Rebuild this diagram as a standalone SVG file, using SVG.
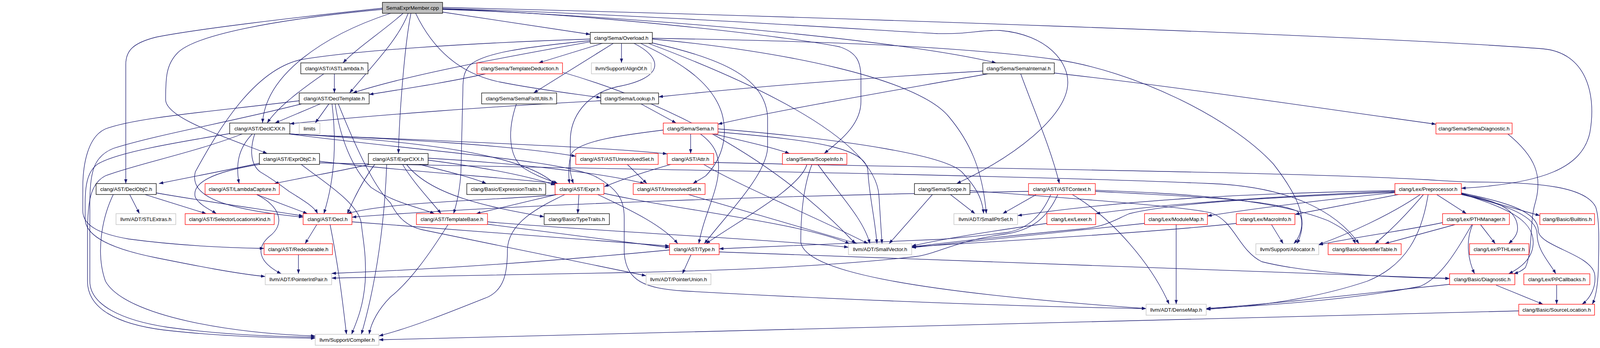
<svg xmlns="http://www.w3.org/2000/svg" width="4331" height="891" viewBox="0 0 4331 891">
<style>
.node rect{fill:#ffffff;stroke-width:1.3}
.nb rect{stroke:#000000}
.nr rect{stroke:#ff0000}
.ng rect{stroke:#bfbfbf}
.nm rect{fill:#bfbfbf;stroke:#000000}
.node text{font-family:"Liberation Sans",Arial,Helvetica,sans-serif;font-size:13.3px;fill:#000000;text-anchor:middle}
#edges path{fill:none;stroke:#191970;stroke-width:1.3;marker-end:url(#arr)}
</style>
<defs>
<marker id="arr" markerUnits="userSpaceOnUse" markerWidth="11" markerHeight="8" viewBox="0 0 11 8" refX="11" refY="4" orient="auto"><path d="M0,0L11,4L0,8z" fill="#191970"/></marker>
</defs>
<rect x="0" y="0" width="4331" height="891" fill="#ffffff"/>
<g id="edges">
<path d="M1133,31 L1511,88"/>
<path d="M1032,34 C980,80 915,122 878,161"/>
<path d="M1000,34 C830,90 680,190 672,315"/>
<path d="M979,21 C750,45 500,75 400,95 C340,110 322,130 322,165 L322,470"/>
<path d="M979,24 C700,50 500,90 455,135 C425,165 424,200 424,255 C424,300 560,345 684,393"/>
<path d="M1045,34 C1020,100 960,160 895,238"/>
<path d="M1052,34 C1035,120 1022,300 1020,393"/>
<path d="M1064,34 C1110,130 1180,190 1280,210 C1380,230 1470,240 1538,250"/>
<path d="M1133,24 C1600,40 2300,100 2550,161"/>
<path d="M1133,19 C2000,40 3500,90 3950,125 C4060,135 4088,240 4070,340 C4050,430 3950,470 3741,482"/>
<path d="M1133,22 C1600,35 2200,75 2400,86 C2480,88 2510,76 2560,78 C2680,88 2740,160 2733,220 C2725,300 2600,400 2449,470"/>
<path d="M1133,23 C1500,35 2000,90 2150,120 C2195,135 2204,160 2204,200 L2204,260 C2204,320 2150,360 2110,393"/>
<path d="M1542,111 L1379,161"/>
<path d="M1591,111 L1591,161"/>
<path d="M1570,111 L1366,238"/>
<path d="M1511,107 C1300,145 1050,190 903,238"/>
<path d="M1511,100 C1200,110 900,130 769,153 C650,180 560,330 500,440 C485,500 560,535 776,556"/>
<path d="M1623,111 C1700,150 1700,200 1580,222 C1500,240 1460,300 1460,360 L1460,440 C1462,452 1465,462 1468,470"/>
<path d="M1511,104 C1350,120 1230,135 1200,170 C1188,185 1185,200 1185,230 L1180,440 C1178,480 1170,520 1161,547"/>
<path d="M1670,110 C1850,150 1960,200 1965,300 L1965,380 C1960,450 1860,550 1803,624"/>
<path d="M1640,111 C1720,150 1820,200 1848,290 C1862,340 1855,400 1807,450 C1795,458 1785,463 1774,470"/>
<path d="M1670,100 C2000,130 2350,200 2430,300 C2480,360 2515,430 2525,547"/>
<path d="M1660,111 C1950,220 2240,360 2250,500 L2258,624"/>
<path d="M1670,98 C2100,105 2450,118 2700,152 C2900,180 3150,300 3260,420 C3330,510 3350,570 3320,624"/>
<path d="M856,189 L856,238"/>
<path d="M829,189 C770,230 710,275 684,315"/>
<path d="M1243,189 C1150,210 1050,225 945,242"/>
<path d="M1440,185 C1700,260 1980,400 2190,624"/>
<path d="M2516,182 C2200,200 1900,225 1686,248"/>
<path d="M2529,189 C2300,230 2000,280 1838,318"/>
<path d="M2613,189 C2650,290 2690,380 2712,470"/>
<path d="M2699,187 C3000,220 3400,280 3676,318"/>
<path d="M820,266 L704,315"/>
<path d="M842,266 L807,315"/>
<path d="M850,266 C860,350 860,450 829,547"/>
<path d="M858,266 C870,350 900,430 950,480 C1010,520 1070,530 1112,547"/>
<path d="M866,266 C920,400 960,480 1000,520 C1020,560 1045,580 1080,588 L1654,706"/>
<path d="M766,258 C550,285 350,300 270,330 C225,350 212,420 212,480 L212,540 C212,580 260,600 330,612 C450,628 560,634 676,636"/>
<path d="M772,266 C600,310 400,345 290,380 C240,400 230,440 230,520 L230,720 C230,780 310,820 430,838 C560,856 700,862 807,863"/>
<path d="M646,343 C610,380 603,420 612,470"/>
<path d="M652,343 C640,380 640,420 666,440 C700,460 720,475 740,490 C780,515 805,530 813,547"/>
<path d="M740,343 C1100,360 1550,376 1708,394"/>
<path d="M740,343 C1000,355 1300,370 1474,400"/>
<path d="M740,343 C1100,362 1350,400 1421,472"/>
<path d="M740,343 C1100,390 1450,410 1530,455 C1590,490 1598,520 1598,560 L1598,650 C1605,720 1650,738 1750,745 C2100,765 2600,785 2934,790"/>
<path d="M588,342 C450,365 300,390 250,420 C222,440 218,480 218,520 L218,560 C218,610 300,640 400,660 C500,680 600,700 679,708"/>
<path d="M620,343 C500,390 350,420 270,450 C230,470 224,520 224,600 L224,720 C224,790 300,830 420,845 C550,860 700,865 807,866"/>
<path d="M400,494 C550,520 700,540 776,553"/>
<path d="M371,498 L528,547"/>
<path d="M332,498 L357,547"/>
<path d="M290,498 C260,560 245,650 270,720 C320,810 600,855 807,860"/>
<path d="M664,418 C560,440 480,455 407,470"/>
<path d="M818,413 C1050,440 1300,455 1428,470"/>
<path d="M670,420 C540,440 490,470 500,505 C510,525 540,538 554,547"/>
<path d="M818,417 C1500,432 2500,445 3100,470 C3300,478 3420,540 3479,624"/>
<path d="M770,420 C820,460 920,520 925,573 C930,620 938,650 935,720 C930,790 910,830 900,856"/>
<path d="M950,420 C900,432 800,450 702,470"/>
<path d="M960,420 C930,460 905,510 889,547"/>
<path d="M1096,410 C1250,430 1350,450 1421,474"/>
<path d="M1030,420 C1060,470 1100,510 1129,547"/>
<path d="M1096,405 C1350,420 1550,445 1650,470"/>
<path d="M1070,420 C1150,440 1210,455 1245,470"/>
<path d="M1040,420 C1100,500 1250,530 1393,555"/>
<path d="M990,420 C985,560 965,720 925,856"/>
<path d="M1428,498 C1300,512 1000,515 889,547"/>
<path d="M1425,498 L1219,547"/>
<path d="M1482,498 L1479,547"/>
<path d="M1530,498 C1620,540 1700,580 1735,624"/>
<path d="M1546,495 C1750,540 2050,570 2175,624"/>
<path d="M1446,498 C1380,530 1300,570 1299,640 C1299,700 1290,740 1250,760 C1150,800 1050,840 970,860"/>
<path d="M1248,574 C1450,600 1600,620 1714,634"/>
<path d="M1248,568 C1500,590 2000,615 2172,633"/>
<path d="M1147,575 C1100,650 1050,720 1000,760 C970,790 950,825 945,856"/>
<path d="M657,498 L787,547"/>
<path d="M657,498 C720,530 730,575 690,605 C655,635 660,670 720,701"/>
<path d="M811,575 L781,624"/>
<path d="M845,575 C870,700 880,800 887,856"/>
<path d="M901,568 C1200,590 1500,612 1714,630"/>
<path d="M764,652 L764,701"/>
<path d="M1714,640 C1400,670 1100,690 849,700"/>
<path d="M1769,652 L1747,701"/>
<path d="M1841,645 C2300,662 3000,690 3711,713"/>
<path d="M1605,420 L1656,470"/>
<path d="M1720,420 C1650,440 1590,460 1547,478"/>
<path d="M1800,420 C1900,480 2100,560 2222,624"/>
<path d="M1827,416 C2500,432 3300,440 3650,460 C3700,463 3740,466 3770,466 C3950,466 4060,480 4085,530 C4095,560 4093,620 4092,680 C4091,730 4086,760 4076,779"/>
<path d="M1768,343 L1768,393"/>
<path d="M1827,343 C1900,360 1980,378 2021,393"/>
<path d="M1698,333 C1600,345 1480,360 1462,395 C1455,420 1455,450 1458,470"/>
<path d="M1793,343 C1830,370 1845,400 1838,450 C1832,500 1800,560 1789,624"/>
<path d="M1838,330 C2200,360 2420,400 2462,440 C2500,480 2515,510 2518,547"/>
<path d="M1838,338 C2100,360 2220,380 2222,440 C2225,500 2240,560 2245,624"/>
<path d="M1641,266 L1731,315"/>
<path d="M1538,258 C1300,270 950,295 742,317"/>
<path d="M1322,266 C1300,330 1300,400 1340,430 C1380,455 1410,462 1428,470"/>
<path d="M2066,420 C2050,480 1900,560 1807,624"/>
<path d="M2093,420 C2150,500 2210,560 2227,624"/>
<path d="M2079,420 C2055,480 2050,560 2050,620 C2060,690 2300,745 2934,790"/>
<path d="M2433,498 L2496,547"/>
<path d="M2387,498 L2276,624"/>
<path d="M2483,488 C2800,512 3040,530 3100,545 C3160,565 3170,640 3230,670 C3350,700 3550,710 3711,713"/>
<path d="M2633,490 C2000,500 1300,525 901,556"/>
<path d="M2690,498 C2665,555 2630,585 2580,595 C2500,605 2450,610 2400,613 L1841,637"/>
<path d="M2708,498 C2680,560 2640,590 2570,600 C2450,615 2400,650 2343,657 C2100,685 1800,694 1600,698 C1300,704 1000,710 849,712"/>
<path d="M2653,498 L2567,547"/>
<path d="M2745,498 C2850,560 2950,680 2993,779"/>
<path d="M2804,487 C3000,495 3250,505 3400,565 C3440,585 3460,600 3470,624"/>
<path d="M2804,490 C3000,500 3250,510 3320,540 C3340,555 3335,600 3312,624"/>
<path d="M2680,572 C2550,590 2420,610 2334,630"/>
<path d="M3011,575 L3011,779"/>
<path d="M2930,572 C2700,595 2500,615 2334,634"/>
<path d="M3255,575 L3285,624"/>
<path d="M3165,572 C2950,595 2600,615 2334,632"/>
<path d="M3790,575 L3828,624"/>
<path d="M3770,575 C3750,620 3760,670 3775,701"/>
<path d="M3768,575 C3730,640 3690,710 3636,733 C3500,760 3300,780 3088,790"/>
<path d="M3725,575 L3545,624"/>
<path d="M3693,570 C3600,590 3450,610 3376,627"/>
<path d="M3741,495 L3942,552"/>
<path d="M3741,496 C3850,530 3925,560 3925,620 C3925,660 3895,685 3862,701"/>
<path d="M3741,497 C3850,515 3885,545 3885,585 C3885,600 3875,612 3862,624"/>
<path d="M3741,498 C3860,525 3935,555 3935,600 C3935,640 3965,670 3983,701"/>
<path d="M3741,494 C3870,520 3938,545 3938,590 C3938,630 4070,650 4082,700 C4088,735 4070,765 4050,779"/>
<path d="M3678,498 L3754,547"/>
<path d="M3580,498 L3315,549"/>
<path d="M3571,493 C3400,510 3200,535 3091,553"/>
<path d="M3571,490 C3300,500 3000,520 2805,547"/>
<path d="M3571,488 C3200,495 2900,510 2605,552"/>
<path d="M3571,492 C3250,505 3000,520 2891,547 C2850,565 2830,580 2770,586 C2600,602 2450,618 2334,632"/>
<path d="M3636,498 C3560,550 3450,600 3376,626"/>
<path d="M3644,498 C3600,550 3560,590 3520,624"/>
<path d="M3656,498 C3640,600 3600,680 3500,720 C3350,770 3200,785 3088,792"/>
<path d="M3860,343 C3930,400 3950,450 3930,520 C3915,570 3925,640 3905,685 C3897,693 3886,698 3875,701"/>
<path d="M3711,728 C3500,750 3300,775 3088,790"/>
<path d="M3830,730 L3950,779"/>
<path d="M3985,730 L3985,779"/>
<path d="M3888,796 C3000,815 2000,840 970,870"/>
<path d="M1762,498 L2195,624"/>
</g>
<g id="node-main" class="node nm"><rect x="979" y="6" width="154" height="28"/><text x="1056" y="24.5">SemaExprMember.cpp</text></g>
<g id="node-overload" class="node nb"><rect x="1511" y="83" width="159" height="28"/><text x="1590.5" y="101.5">clang/Sema/Overload.h</text></g>
<g id="node-astlambda" class="node nb"><rect x="770" y="161" width="172" height="28"/><text x="856" y="179.5">clang/AST/ASTLambda.h</text></g>
<g id="node-tdeduct" class="node nr"><rect x="1221" y="161" width="219" height="28"/><text x="1330.5" y="179.5">clang/Sema/TemplateDeduction.h</text></g>
<g id="node-alignof" class="node ng"><rect x="1514" y="161" width="153" height="28"/><text x="1590.5" y="179.5">llvm/Support/AlignOf.h</text></g>
<g id="node-semainternal" class="node nb"><rect x="2516" y="161" width="183" height="28"/><text x="2607.5" y="179.5">clang/Sema/SemaInternal.h</text></g>
<g id="node-decltemplate" class="node nb"><rect x="766" y="238" width="179" height="28"/><text x="855.5" y="256.5">clang/AST/DeclTemplate.h</text></g>
<g id="node-fixit" class="node nb"><rect x="1233" y="238" width="192" height="28"/><text x="1329" y="256.5">clang/Sema/SemaFixItUtils.h</text></g>
<g id="node-lookup" class="node nb"><rect x="1538" y="238" width="148" height="28"/><text x="1612" y="256.5">clang/Sema/Lookup.h</text></g>
<g id="node-declcxx" class="node nb"><rect x="588" y="315" width="154" height="28"/><text x="665" y="333.5">clang/AST/DeclCXX.h</text></g>
<g id="node-limits" class="node ng"><rect x="766" y="315" width="53" height="28"/><text x="792.5" y="333.5">limits</text></g>
<g id="node-sema" class="node nr"><rect x="1698" y="315" width="140" height="28"/><text x="1768" y="333.5">clang/Sema/Sema.h</text></g>
<g id="node-semadiag" class="node nr"><rect x="3676" y="315" width="195" height="28"/><text x="3773.5" y="333.5">clang/Sema/SemaDiagnostic.h</text></g>
<g id="node-exprobjc" class="node nb"><rect x="664" y="393" width="154" height="28"/><text x="741" y="411.5">clang/AST/ExprObjC.h</text></g>
<g id="node-exprcxx" class="node nb"><rect x="943" y="393" width="153" height="28"/><text x="1019.5" y="411.5">clang/AST/ExprCXX.h</text></g>
<g id="node-astunres" class="node nr"><rect x="1474" y="393" width="211" height="28"/><text x="1579.5" y="411.5">clang/AST/ASTUnresolvedSet.h</text></g>
<g id="node-attr" class="node nr"><rect x="1708" y="393" width="119" height="28"/><text x="1767.5" y="411.5">clang/AST/Attr.h</text></g>
<g id="node-scopeinfo" class="node nr"><rect x="2003" y="393" width="165" height="28"/><text x="2085.5" y="411.5">clang/Sema/ScopeInfo.h</text></g>
<g id="node-declobjc" class="node nb"><rect x="246" y="470" width="154" height="28"/><text x="323" y="488.5">clang/AST/DeclObjC.h</text></g>
<g id="node-lambdacap" class="node nr"><rect x="525" y="470" width="190" height="28"/><text x="620" y="488.5">clang/AST/LambdaCapture.h</text></g>
<g id="node-exprtraits" class="node nb"><rect x="1195" y="470" width="202" height="28"/><text x="1296" y="488.5">clang/Basic/ExpressionTraits.h</text></g>
<g id="node-expr" class="node nr"><rect x="1421" y="470" width="125" height="28"/><text x="1483.5" y="488.5">clang/AST/Expr.h</text></g>
<g id="node-unresset" class="node nr"><rect x="1621" y="470" width="184" height="28"/><text x="1713" y="488.5">clang/AST/UnresolvedSet.h</text></g>
<g id="node-scope" class="node nb"><rect x="2341" y="470" width="142" height="28"/><text x="2412" y="488.5">clang/Sema/Scope.h</text></g>
<g id="node-astcontext" class="node nr"><rect x="2633" y="470" width="171" height="28"/><text x="2718.5" y="488.5">clang/AST/ASTContext.h</text></g>
<g id="node-preproc" class="node nr"><rect x="3571" y="470" width="170" height="28"/><text x="3656" y="488.5">clang/Lex/Preprocessor.h</text></g>
<g id="node-stlextras" class="node ng"><rect x="297" y="547" width="153" height="28"/><text x="373.5" y="565.5">llvm/ADT/STLExtras.h</text></g>
<g id="node-selloc" class="node nr"><rect x="474" y="547" width="228" height="28"/><text x="588" y="565.5">clang/AST/SelectorLocationsKind.h</text></g>
<g id="node-decl" class="node nr"><rect x="776" y="547" width="125" height="28"/><text x="838.5" y="565.5">clang/AST/Decl.h</text></g>
<g id="node-tmplbase" class="node nr"><rect x="1066" y="547" width="182" height="28"/><text x="1157" y="565.5">clang/AST/TemplateBase.h</text></g>
<g id="node-typetraits" class="node nb"><rect x="1393" y="547" width="167" height="28"/><text x="1476.5" y="565.5">clang/Basic/TypeTraits.h</text></g>
<g id="node-smallptrset" class="node ng"><rect x="2442" y="547" width="163" height="28"/><text x="2523.5" y="565.5">llvm/ADT/SmallPtrSet.h</text></g>
<g id="node-lexer" class="node nr"><rect x="2680" y="547" width="125" height="28"/><text x="2742.5" y="565.5">clang/Lex/Lexer.h</text></g>
<g id="node-modulemap" class="node nr"><rect x="2930" y="547" width="161" height="28"/><text x="3010.5" y="565.5">clang/Lex/ModuleMap.h</text></g>
<g id="node-macroinfo" class="node nr"><rect x="3165" y="547" width="150" height="28"/><text x="3240" y="565.5">clang/Lex/MacroInfo.h</text></g>
<g id="node-pthmanager" class="node nr"><rect x="3693" y="547" width="171" height="28"/><text x="3778.5" y="565.5">clang/Lex/PTHManager.h</text></g>
<g id="node-builtins" class="node nr"><rect x="3942" y="547" width="140" height="28"/><text x="4012" y="565.5">clang/Basic/Builtins.h</text></g>
<g id="node-redecl" class="node nr"><rect x="676" y="624" width="175" height="28"/><text x="763.5" y="642.5">clang/AST/Redeclarable.h</text></g>
<g id="node-type" class="node nr"><rect x="1714" y="624" width="127" height="28"/><text x="1777.5" y="642.5">clang/AST/Type.h</text></g>
<g id="node-smallvector" class="node ng"><rect x="2172" y="624" width="162" height="28"/><text x="2253" y="642.5">llvm/ADT/SmallVector.h</text></g>
<g id="node-allocator" class="node ng"><rect x="3215" y="624" width="161" height="28"/><text x="3295.5" y="642.5">llvm/Support/Allocator.h</text></g>
<g id="node-identtable" class="node nr"><rect x="3400" y="624" width="187" height="28"/><text x="3493.5" y="642.5">clang/Basic/IdentifierTable.h</text></g>
<g id="node-pthlexer" class="node nr"><rect x="3762" y="624" width="152" height="28"/><text x="3838" y="642.5">clang/Lex/PTHLexer.h</text></g>
<g id="node-pip" class="node ng"><rect x="679" y="701" width="170" height="28"/><text x="764" y="719.5">llvm/ADT/PointerIntPair.h</text></g>
<g id="node-punion" class="node ng"><rect x="1654" y="701" width="166" height="28"/><text x="1737" y="719.5">llvm/ADT/PointerUnion.h</text></g>
<g id="node-diagnostic" class="node nr"><rect x="3711" y="701" width="167" height="28"/><text x="3794.5" y="719.5">clang/Basic/Diagnostic.h</text></g>
<g id="node-ppcallbacks" class="node nr"><rect x="3901" y="701" width="169" height="28"/><text x="3985.5" y="719.5">clang/Lex/PPCallbacks.h</text></g>
<g id="node-densemap" class="node ng"><rect x="2934" y="779" width="154" height="28"/><text x="3011" y="797.5">llvm/ADT/DenseMap.h</text></g>
<g id="node-srcloc" class="node nr"><rect x="3888" y="779" width="194" height="28"/><text x="3985" y="797.5">clang/Basic/SourceLocation.h</text></g>
<g id="node-compiler" class="node ng"><rect x="807" y="856" width="163" height="28"/><text x="888.5" y="874.5">llvm/Support/Compiler.h</text></g>
</svg>
